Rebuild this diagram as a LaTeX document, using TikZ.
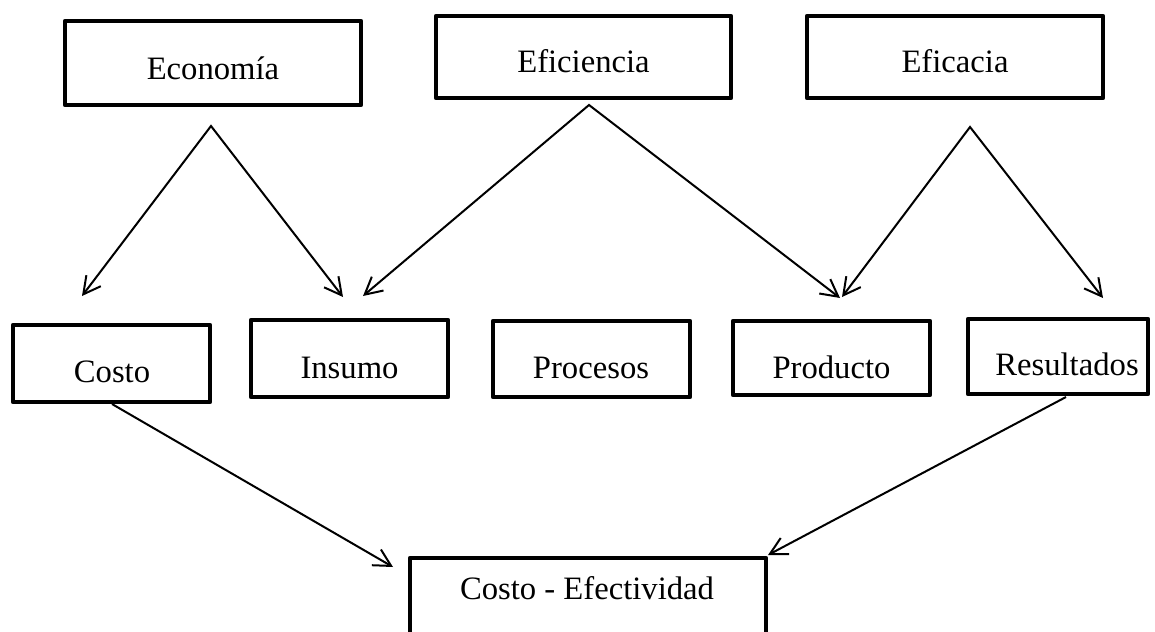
\documentclass[tikz,border=0pt]{standalone}
\usepackage{fontspec}
\setmainfont{Liberation Serif}
\usetikzlibrary{arrows.meta}
\begin{document}
\begin{tikzpicture}[x=0.75pt,y=-0.75pt,
  box/.style n args={2}{draw=black, line width=3.6pt, line join=round,
    inner sep=0pt, minimum width=#1, minimum height=#2},
  txt/.style={anchor=base, inner sep=0pt, font=\fontsize{24.5}{28}\selectfont},
  conn/.style={draw=black, line width=1.5pt, line join=miter,
    {Straight Barb[angle=56:14.5pt]}-{Straight Barb[angle=56:14.5pt]}},
  single/.style={draw=black, line width=1.5pt, -{Straight Barb[angle=56:14.5pt]}}]

\clip (0,0) rectangle (1155,631);
\fill[white] (0,0) rectangle (1155,631);

% top row
\node[box={222pt}{63pt}]      (economia)   at (213,63) {};
\node[box={221.25pt}{61.5pt}] (eficiencia) at (583.5,57) {};
\node[box={222pt}{61.5pt}]    (eficacia)   at (955,57) {};

% middle row
\node[box={147.75pt}{57.75pt}] (costo)      at (111.5,363.5) {};
\node[box={147.75pt}{57.75pt}] (insumo)     at (349.5,358.5) {};
\node[box={147.75pt}{57pt}]    (procesos)   at (591.5,359) {};
\node[box={147.75pt}{55.5pt}]  (producto)   at (831.5,358) {};
\node[box={135pt}{56.25pt}]    (resultados) at (1058,356.5) {};

% bottom box
\node[box={267pt}{76.5pt}] (ce) at (588,609) {};

% texts
\node[txt] (economiaT)   at (213,80)   {Economía};
\node[txt] (eficienciaT) at (583.5,73) {Eficiencia};
\node[txt] (eficaciaT)   at (955,73)   {Eficacia};
\node[txt] (costoT)      at (112,382)  {Costo};
\node[txt] (insumoT)     at (349.5,378) {Insumo};
\node[txt] (procesosT)   at (591,378)  {Procesos};
\node[txt] (productoT)   at (831.5,378) {Producto};
\node[txt] (resultadosT) at (1067,375) {Resultados};
\node[txt] (ceT)         at (587,599)  {Costo - Efectividad};

% connector end points
\coordinate (ecoApex) at (211,126);
\coordinate (efiApex) at (589,105);
\coordinate (efcApex) at (970,127);
\coordinate (costoIn)  at (82,296);
\coordinate (insumoInA) at (343,297);
\coordinate (insumoInB) at (363,296);
\coordinate (productoInA) at (840,298);
\coordinate (productoInB) at (842,297);
\coordinate (resultadosIn) at (1103,298);
\coordinate (costoOut) at (112,404);
\coordinate (resultadosOut) at (1066,397);
\coordinate (ceInL) at (393,567);
\coordinate (ceInR) at (768,555);

% connectors
\draw[conn] (costoIn) -- (ecoApex) -- (insumoInA);
\draw[conn] (insumoInB) -- (efiApex) -- (productoInA);
\draw[conn] (productoInB) -- (efcApex) -- (resultadosIn);
\draw[single] (costoOut) -- (ceInL);
\draw[single] (resultadosOut) -- (ceInR);
\end{tikzpicture}
\end{document}
